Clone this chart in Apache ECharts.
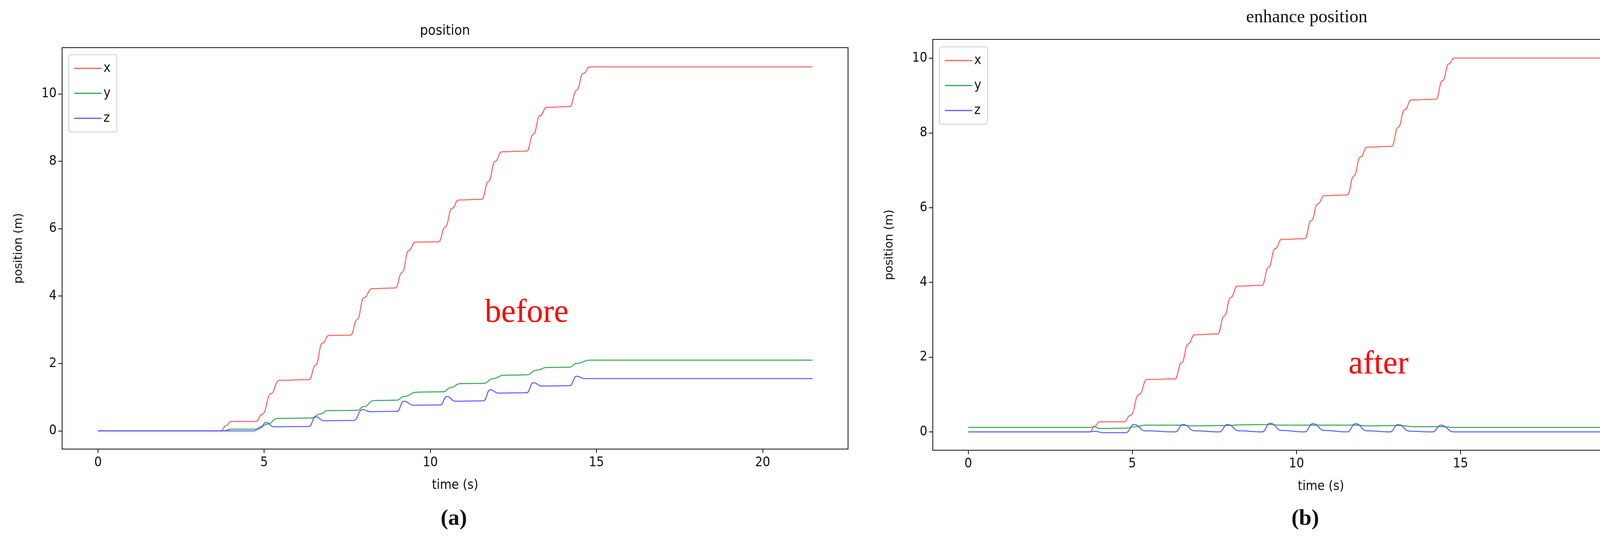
<!DOCTYPE html><html><head><meta charset="utf-8"><script src="https://cdn.jsdelivr.net/npm/echarts@6/dist/echarts.min.js"></script>
<style>html,body{margin:0;background:#fff}#c{width:4394px;height:1388px}</style></head><body><div id="c"></div><script>
const xTicks=[0,5,10,15,20];
const yTicks=[0,2,4,6,8,10];
const aX=[[0,0],[3.7,0],[3.85,0.15],[4.0,0.28],[4.75,0.28],[4.95,0.5],[5.2,1.1],[5.45,1.5],[6.35,1.52],[6.55,1.95],[6.75,2.6],[6.95,2.83],[7.6,2.84],[7.8,3.3],[8.0,3.95],[8.25,4.22],[8.95,4.24],[9.15,4.7],[9.35,5.35],[9.55,5.6],[10.25,5.61],[10.45,6.05],[10.65,6.6],[10.85,6.85],[11.55,6.87],[11.75,7.4],[11.95,8.0],[12.15,8.28],[12.9,8.3],[13.1,8.8],[13.3,9.35],[13.5,9.6],[14.2,9.62],[14.4,10.1],[14.6,10.6],[14.8,10.8],[21.5,10.8]];
const aY=[[0,0],[3.8,0],[4.0,0.05],[4.8,0.05],[5.1,0.2],[5.4,0.37],[6.4,0.38],[6.7,0.5],[6.9,0.6],[7.8,0.61],[8.0,0.72],[8.3,0.9],[9.0,0.91],[9.2,1.02],[9.6,1.15],[10.4,1.16],[10.6,1.28],[10.9,1.4],[11.6,1.41],[11.9,1.55],[12.2,1.65],[12.9,1.66],[13.2,1.8],[13.5,1.88],[14.2,1.89],[14.4,2.0],[14.8,2.1],[21.5,2.1]];
const aZ=[[0,0],[4.7,0],[4.9,0.12],[5.05,0.25],[5.3,0.12],[6.35,0.13],[6.55,0.42],[6.8,0.3],[7.7,0.31],[7.95,0.63],[8.2,0.57],[9.0,0.58],[9.2,0.88],[9.5,0.76],[10.3,0.77],[10.5,1.02],[10.75,0.88],[11.6,0.89],[11.8,1.22],[12.05,1.12],[12.9,1.13],[13.1,1.43],[13.35,1.33],[14.2,1.34],[14.4,1.62],[14.65,1.55],[21.5,1.55]];
const bX=[[0,0],[3.7,0],[3.85,0.15],[4.0,0.27],[4.75,0.27],[4.95,0.45],[5.2,1.0],[5.45,1.4],[6.3,1.42],[6.5,1.85],[6.7,2.35],[6.9,2.6],[7.6,2.62],[7.8,3.1],[8.0,3.6],[8.2,3.9],[8.95,3.92],[9.15,4.4],[9.35,4.9],[9.55,5.15],[10.25,5.17],[10.45,5.65],[10.65,6.1],[10.85,6.32],[11.55,6.34],[11.75,6.85],[11.95,7.35],[12.15,7.62],[12.9,7.64],[13.1,8.15],[13.3,8.62],[13.5,8.88],[14.25,8.9],[14.45,9.4],[14.65,9.85],[14.8,10.0],[21.5,10.0]];
const bY=[[0,0.12],[3.7,0.12],[3.85,0.14],[4.0,0.09],[4.8,0.1],[5.1,0.14],[5.4,0.18],[6.5,0.18],[6.8,0.16],[7.9,0.17],[8.3,0.19],[9.2,0.2],[9.5,0.18],[11.0,0.18],[11.8,0.18],[12.2,0.16],[13.1,0.17],[13.6,0.14],[14.5,0.14],[14.8,0.12],[21.5,0.12]];
const bZ=[[0,0],[3.7,0],[3.85,0.02],[4.1,-0.02],[4.8,-0.02],[5.05,0.2],[5.4,0.03],[6.3,0],[6.55,0.2],[6.9,0.03],[7.65,0],[7.9,0.2],[8.25,0.03],[8.95,0],[9.2,0.23],[9.55,0.04],[10.25,0],[10.5,0.22],[10.85,0.04],[11.55,0],[11.8,0.22],[12.15,0.03],[12.85,0],[13.1,0.2],[13.45,0.02],[14.15,0],[14.4,0.18],[14.8,0],[21.5,0]];
const C={x:'#ff5c5c',y:'#2ca84f',z:'#5a5aff'};
const tick={fontFamily:'DejaVu Sans Condensed, Liberation Sans Narrow, sans-serif',fontSize:34,color:'#111'};
function axes(i,ymin,ymax){
 return {x:{type:'value',gridIndex:i,min:-1.08,max:22.57,
   axisLabel:Object.assign({margin:18,customValues:xTicks},tick),
   axisTick:{show:true,length:10,lineStyle:{color:'#111',width:2},customValues:xTicks},
   axisLine:{onZero:false,lineStyle:{color:'#111',width:2}},splitLine:{show:false},
   name:'time (s)',nameLocation:'middle',nameGap:76,nameTextStyle:tick},
  y:{type:'value',gridIndex:i,min:ymin,max:ymax,
   axisLabel:Object.assign({margin:14,customValues:yTicks},tick),
   axisTick:{show:true,length:10,lineStyle:{color:'#111',width:2},customValues:yTicks},
   axisLine:{show:true,onZero:false,lineStyle:{color:'#111',width:2}},splitLine:{show:false},
   name:'position (m)',nameLocation:'middle',nameGap:96,nameTextStyle:{fontFamily:'DejaVu Sans',fontSize:30,color:'#111'}}};
}
const A=axes(0,-0.54,11.37), B=axes(1,-0.49,10.5);
function s(name,data,i,c){return {name,type:'line',xAxisIndex:i,yAxisIndex:i,data,showSymbol:false,smooth:0.5,smoothMonotone:'x',lineStyle:{color:c,width:2.5},itemStyle:{color:c},z:name=='z'?3:2};}
const leg=(l,t)=>({left:l,top:t,orient:'vertical',icon:'rect',itemWidth:70,itemHeight:3,itemGap:30,padding:[18,16,18,14],
 borderColor:'#ccc',borderWidth:2,borderRadius:6,textStyle:{fontFamily:'DejaVu Sans Condensed',fontSize:34,color:'#111'},data:['x','y','z']});
const chart=echarts.init(document.getElementById('c'));
chart.setOption({animation:false,
 grid:[{left:159,top:122,width:2012,height:1028,show:true,borderColor:'#111',borderWidth:2},
       {left:2388,top:101,width:1987,height:1052,show:true,borderColor:'#111',borderWidth:2}],
 xAxis:[A.x,B.x],yAxis:[A.y,B.y],
 legend:[leg(176,140),leg(2405,120)],
 series:[s('x',aX,0,C.x),s('y',aY,0,C.y),s('z',aZ,0,C.z),s('x',bX,1,C.x),s('y',bY,1,C.y),s('z',bZ,1,C.z)],
 graphic:[
  {type:'text',left:1075,top:62,style:{text:'position',font:'36px DejaVu Sans Condensed',fill:'#111'}},
  {type:'text',left:3190,top:22,style:{text:'enhance position',font:'46px Liberation Serif',fill:'#111'}},
  {type:'text',left:1241,top:760,style:{text:'before',font:'84px Liberation Serif',fill:'#ff0000'}},
  {type:'text',left:3452,top:892,style:{text:'after',font:'84px Liberation Serif',fill:'#ff0000'}},
  {type:'text',left:1128,top:1300,style:{text:'(a)',font:'bold 58px Liberation Serif',fill:'#111'}},
  {type:'text',left:3306,top:1300,style:{text:'(b)',font:'bold 58px Liberation Serif',fill:'#111'}}
 ]});
</script></body></html>
